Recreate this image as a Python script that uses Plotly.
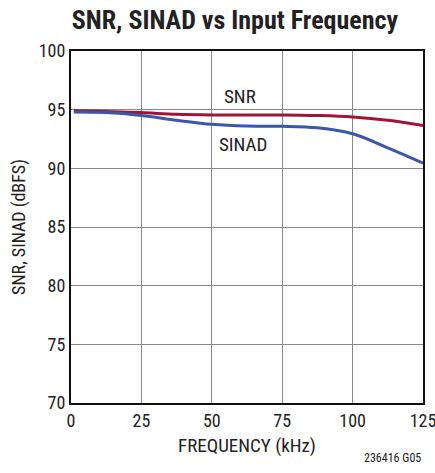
import plotly.graph_objects as go

freq = [1, 12.5, 25, 37.5, 50, 62.5, 75, 87.5, 100, 112.5, 125]
snr = [94.9, 94.85, 94.75, 94.6, 94.55, 94.55, 94.55, 94.5, 94.38, 94.1, 93.65]
sinad = [94.8, 94.75, 94.5, 94.1, 93.75, 93.6, 93.58, 93.45, 92.95, 91.75, 90.45]
xticks = [0, 25, 50, 75, 100, 125]
yticks = [70, 75, 80, 85, 90, 95, 100]

FONT = "Liberation Sans Narrow, Roboto Condensed, Arial Narrow, sans-serif"

fig = go.Figure()
fig.add_trace(go.Scatter(x=freq, y=snr, mode="lines", line=dict(color="#9e1538", width=3, shape="spline"), name="SNR"))
fig.add_trace(go.Scatter(x=freq, y=sinad, mode="lines", line=dict(color="#3a57a8", width=3, shape="spline"), name="SINAD"))

fig.add_annotation(x=60, y=96.1, text="SNR", showarrow=False, font=dict(size=19, color="#222"))
fig.add_annotation(x=61, y=92.0, text="SINAD", showarrow=False, font=dict(size=19, color="#222"))
fig.add_annotation(x=1, y=0, xref="paper", yref="paper", yshift=-46, xanchor="right", yanchor="top",
                   text="236416 G05", showarrow=False, font=dict(size=12, color="#222"))

fig.update_layout(
    width=435, height=473,
    margin=dict(l=71, r=12, t=51, b=70),
    paper_bgcolor="white", plot_bgcolor="white",
    showlegend=False,
    font=dict(family=FONT, color="#222", size=18),
    title=dict(text="<b>SNR, SINAD vs Input Frequency</b>", x=0.54, xanchor="center", y=0.978, yanchor="top",
               font=dict(size=26, family=FONT, color="#222")),
    xaxis=dict(range=[0, 125], tickvals=xticks, showgrid=True, gridcolor="#888", gridwidth=1,
               showline=True, linecolor="#111", linewidth=2, mirror=True, ticks="", zeroline=False,
               automargin=False, ticklabeloverflow="allow",
               title=dict(text="FREQUENCY (kHz)", font=dict(size=19), standoff=9),
               tickfont=dict(size=18)),
    yaxis=dict(range=[70, 100], tickvals=yticks, showgrid=True, gridcolor="#888", gridwidth=1,
               showline=True, linecolor="#111", linewidth=2, mirror=True, ticks="", zeroline=False,
               automargin=False, ticklabeloverflow="allow",
               title=dict(text="SNR, SINAD (dBFS)", font=dict(size=18), standoff=8),
               tickfont=dict(size=18)),
)

fig.write_html("out.html", config={"displayModeBar": False},
               post_script="document.body.style.margin='0';document.body.style.overflow='hidden';")
